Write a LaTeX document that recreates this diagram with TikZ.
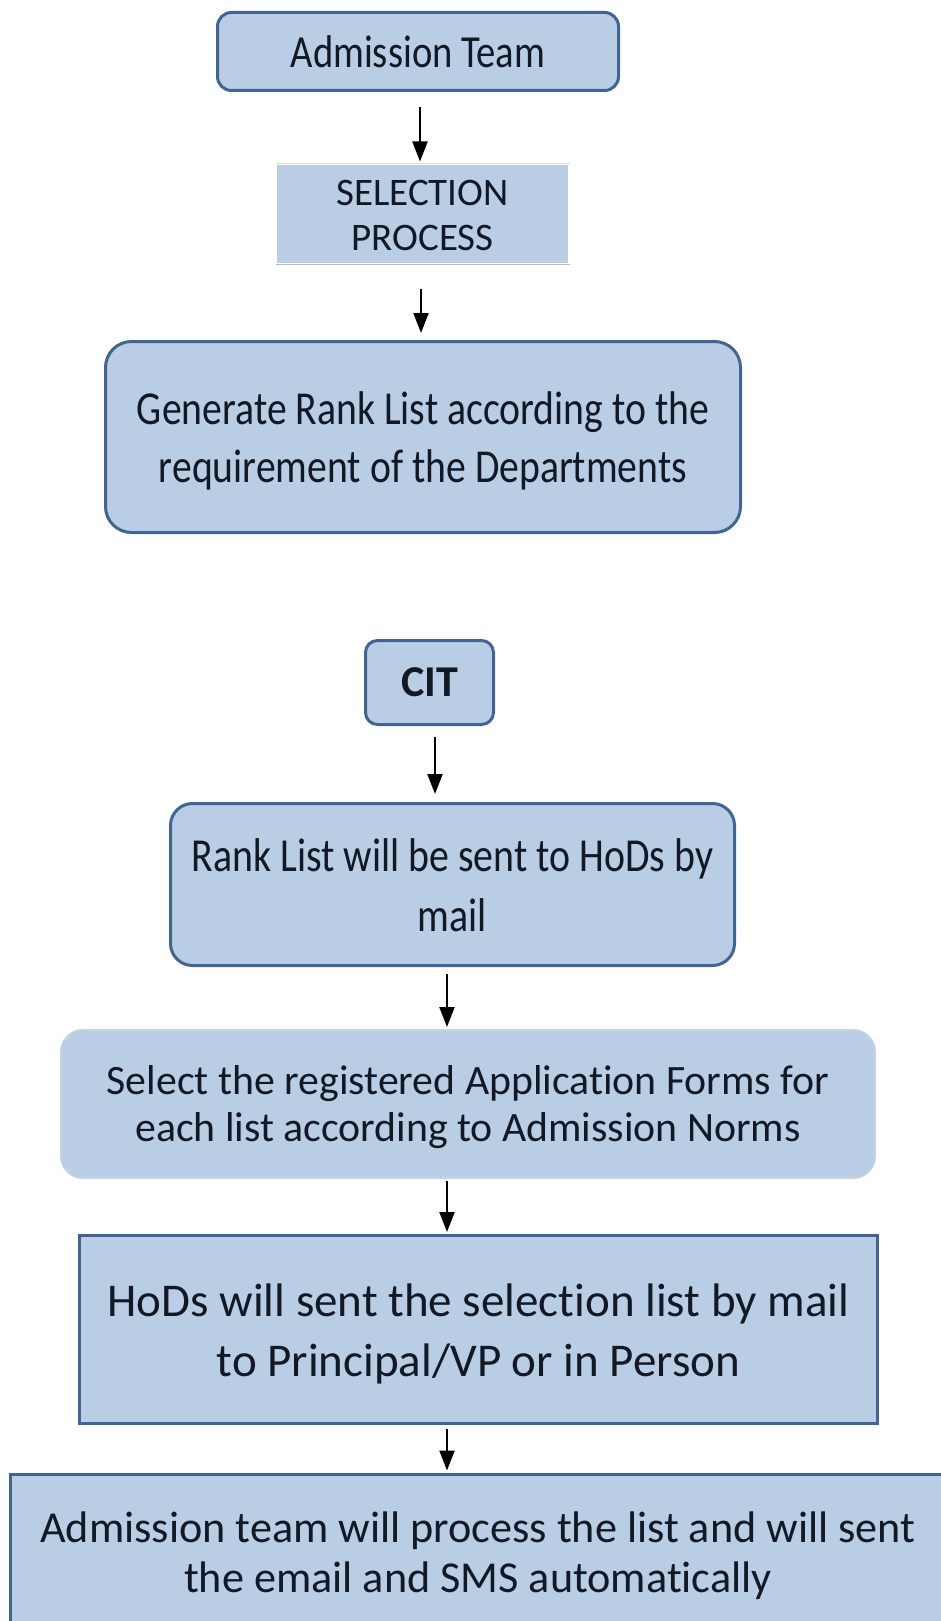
\documentclass[tikz,border=0pt]{standalone}
\usepackage{fontspec}
\setmainfont{Carlito}[Ligatures={NoCommon,NoContextual}, Contextuals=NoAlternate]
\usepackage{graphicx}
\usepackage{xcolor}
\usepackage{tikz}
\usetikzlibrary{arrows.meta,positioning}
\definecolor{boxfill}{RGB}{185,205,229}
\definecolor{boxline}{RGB}{66,100,145}
\definecolor{softline}{RGB}{200,210,224}
\definecolor{inktext}{RGB}{18,24,36}
% box text: rows set a little lower, optionally stretched upwards
\newcommand{\boxrows}[2][1]{\raisebox{-5pt}[\height][\depth]{\scalebox{1}[#1]{\begin{tabular}{@{}c@{}}#2\end{tabular}}}}

\begin{document}
\begin{tikzpicture}[
    x=1pt, y=-1pt,
    flowbox/.style={rectangle, draw=boxline, fill=boxfill, line width=3pt,
                    align=center, inner sep=0pt, text=inktext},
    roundbox/.style={flowbox, rounded corners=#1},
    flow/.style={-{Triangle[width=15pt,length=20pt]}, line width=2.2pt},
]
    \useasboundingbox (0,0) rectangle (940,1621);

    % Admission team side
    \node[roundbox=14pt, minimum width=401pt, minimum height=78pt,
          font=\fontsize{38.6}{46}\selectfont] (admit) at (418,51.5) {\boxrows[1.19]{Admission Team}};
    \node[flowbox, draw=none, minimum width=291pt, minimum height=98pt,
          font=\fontsize{39}{45}\selectfont] (selproc) at (422.5,214) {\boxrows{SELECTION\\PROCESS}};
    \draw[gray!55, line width=1pt] (selproc.south west) -- (selproc.south east);
    \draw[gray!30, line width=0.8pt] (selproc.north west) -- (selproc.north east);
    \node[roundbox=26pt, minimum width=635pt, minimum height=191pt,
          font=\fontsize{39.7}{48.7}\selectfont] (ranklist) at (423,437)
        {\boxrows[1.19]{Generate Rank List according to the\\requirement of the Departments}};

    % CIT side
    \node[roundbox=12pt, minimum width=128pt, minimum height=84pt,
          font=\fontsize{44}{50}\selectfont\bfseries] (cit) at (429.5,682.5) {CIT};
    \node[roundbox=22pt, minimum width=564pt, minimum height=162pt,
          font=\fontsize{39.8}{50.4}\selectfont] (mailhods) at (452.5,884.5)
        {\boxrows[1.19]{Rank List will be sent to HoDs by\\mail}};
    \node[roundbox=22pt, draw=softline, line width=2pt, minimum width=814pt, minimum height=148pt,
          font=\fontsize{41.8}{47}\selectfont] (forms) at (468,1104)
        {\boxrows{Select the registered Application Forms for\\each list according to Admission Norms}};
    \node[flowbox, minimum width=798pt, minimum height=188pt,
          font=\fontsize{47}{60}\selectfont] (hodsmail) at (478.5,1329.5)
        {\boxrows{HoDs will sent the selection list by mail\\to Principal/VP or in Person}};
    \node[flowbox, minimum width=936pt, minimum height=156pt,
          font=\fontsize{44.2}{50}\selectfont] (final) at (478,1552)
        {\boxrows{Admission team will process the list and will sent\\the email and SMS automatically}};

    % Arrows
    \foreach \from/\to/\x/\s/\e in {admit/selproc/420/15pt/2pt, selproc/ranklist/421/24pt/7pt,
                                     cit/mailhods/435/11pt/8pt, mailhods/forms/447/7pt/2pt,
                                     forms/hodsmail/447/2pt/2pt, hodsmail/final/447/4pt/2pt}
        \draw[flow, shorten <=\s, shorten >=\e] (\from.south -| \x,0) -- (\to.north -| \x,0);
\end{tikzpicture}
\end{document}
